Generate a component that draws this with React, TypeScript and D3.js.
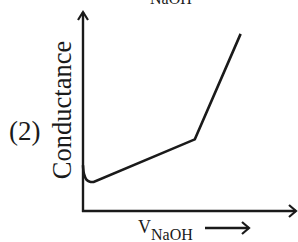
import { useMemo } from "react";
import { line, scaleLinear, curveCatmullRom, curveLinear } from "d3";

// conductometric titration curve (arbitrary units 0..100)
const volumes = [0, 0.5, 1.6, 3.2, 5, 52.5, 74];
const conductance = [23, 18.5, 15.8, 14.7, 14.6, 36, 89];

const yTitle = "Conductance";
const panelLabel = "(2)";
const topLabel = "NaOH";
const xTitleMain = "V";
const xTitleSub = "NaOH";

const W = 298;
const H = 242;
const FONT = "'Liberation Serif', 'Times New Roman', serif";
const INK = "#1a1a1a";

export default function App() {
  const x = useMemo(() => scaleLinear().domain([0, 100]).range([83, 296]), []);
  const y = useMemo(() => scaleLinear().domain([0, 100]).range([211, 12]), []);

  const pts = volumes.map((v, i) => [v, conductance[i]] as [number, number]);
  // soft dip at the start, straight segments after
  const dip = line<[number, number]>()
    .x((d) => x(d[0]))
    .y((d) => y(d[1]))
    .curve(curveCatmullRom.alpha(0.5));
  const straight = line<[number, number]>()
    .x((d) => x(d[0]))
    .y((d) => y(d[1]))
    .curve(curveLinear);
  const path = (dip(pts.slice(0, 5)) || "") + (straight(pts.slice(4)) || "").replace(/^M[^L]*/, "");

  const x0 = x(0);
  const y0 = y(0);
  const xEnd = x(100);
  const yEnd = y(100);

  return (
    <svg
      width={W}
      height={H}
      style={{ position: "absolute", left: 0, top: 0, background: "#fff" }}
    >
      {/* clipped label at the very top */}
      <text x={150} y={4} fontFamily={FONT} fontSize={16} fill={INK}>
        {topLabel}
      </text>

      {/* axes */}
      <line x1={x0} y1={y0 + 1} x2={x0} y2={yEnd} stroke={INK} strokeWidth={2.4} />
      <polyline
        points={`${x0 - 5},${yEnd + 8} ${x0},${yEnd} ${x0 + 5},${yEnd + 8}`}
        fill="none"
        stroke={INK}
        strokeWidth={2.2}
      />
      <line x1={x0 - 1} y1={y0} x2={xEnd} y2={y0} stroke={INK} strokeWidth={2.4} />
      <polyline
        points={`${xEnd - 7},${y0 - 6} ${xEnd},${y0} ${xEnd - 7},${y0 + 6}`}
        fill="none"
        stroke={INK}
        strokeWidth={2.2}
      />

      {/* curve */}
      <path d={path} fill="none" stroke={INK} strokeWidth={2.6} strokeLinejoin="miter" />

      {/* y title */}
      <text
        transform={`translate(71, 110) rotate(-90)`}
        textAnchor="middle"
        fontFamily={FONT}
        fontSize={26.5}
        fill={INK}
      >
        {yTitle}
      </text>
      <text x={9} y={140} fontFamily={FONT} fontSize={27} fill={INK}>
        {panelLabel}
      </text>

      {/* x title with arrow */}
      <text x={138} y={233} fontFamily={FONT} fontSize={18} fill={INK}>
        {xTitleMain}
        <tspan fontSize={16} dy={7}>
          {xTitleSub}
        </tspan>
      </text>
      <line x1={205} y1={228} x2={249} y2={228} stroke={INK} strokeWidth={2.6} />
      <polyline points="242,222 249,228 242,234" fill="none" stroke={INK} strokeWidth={2.2} />
    </svg>
  );
}
